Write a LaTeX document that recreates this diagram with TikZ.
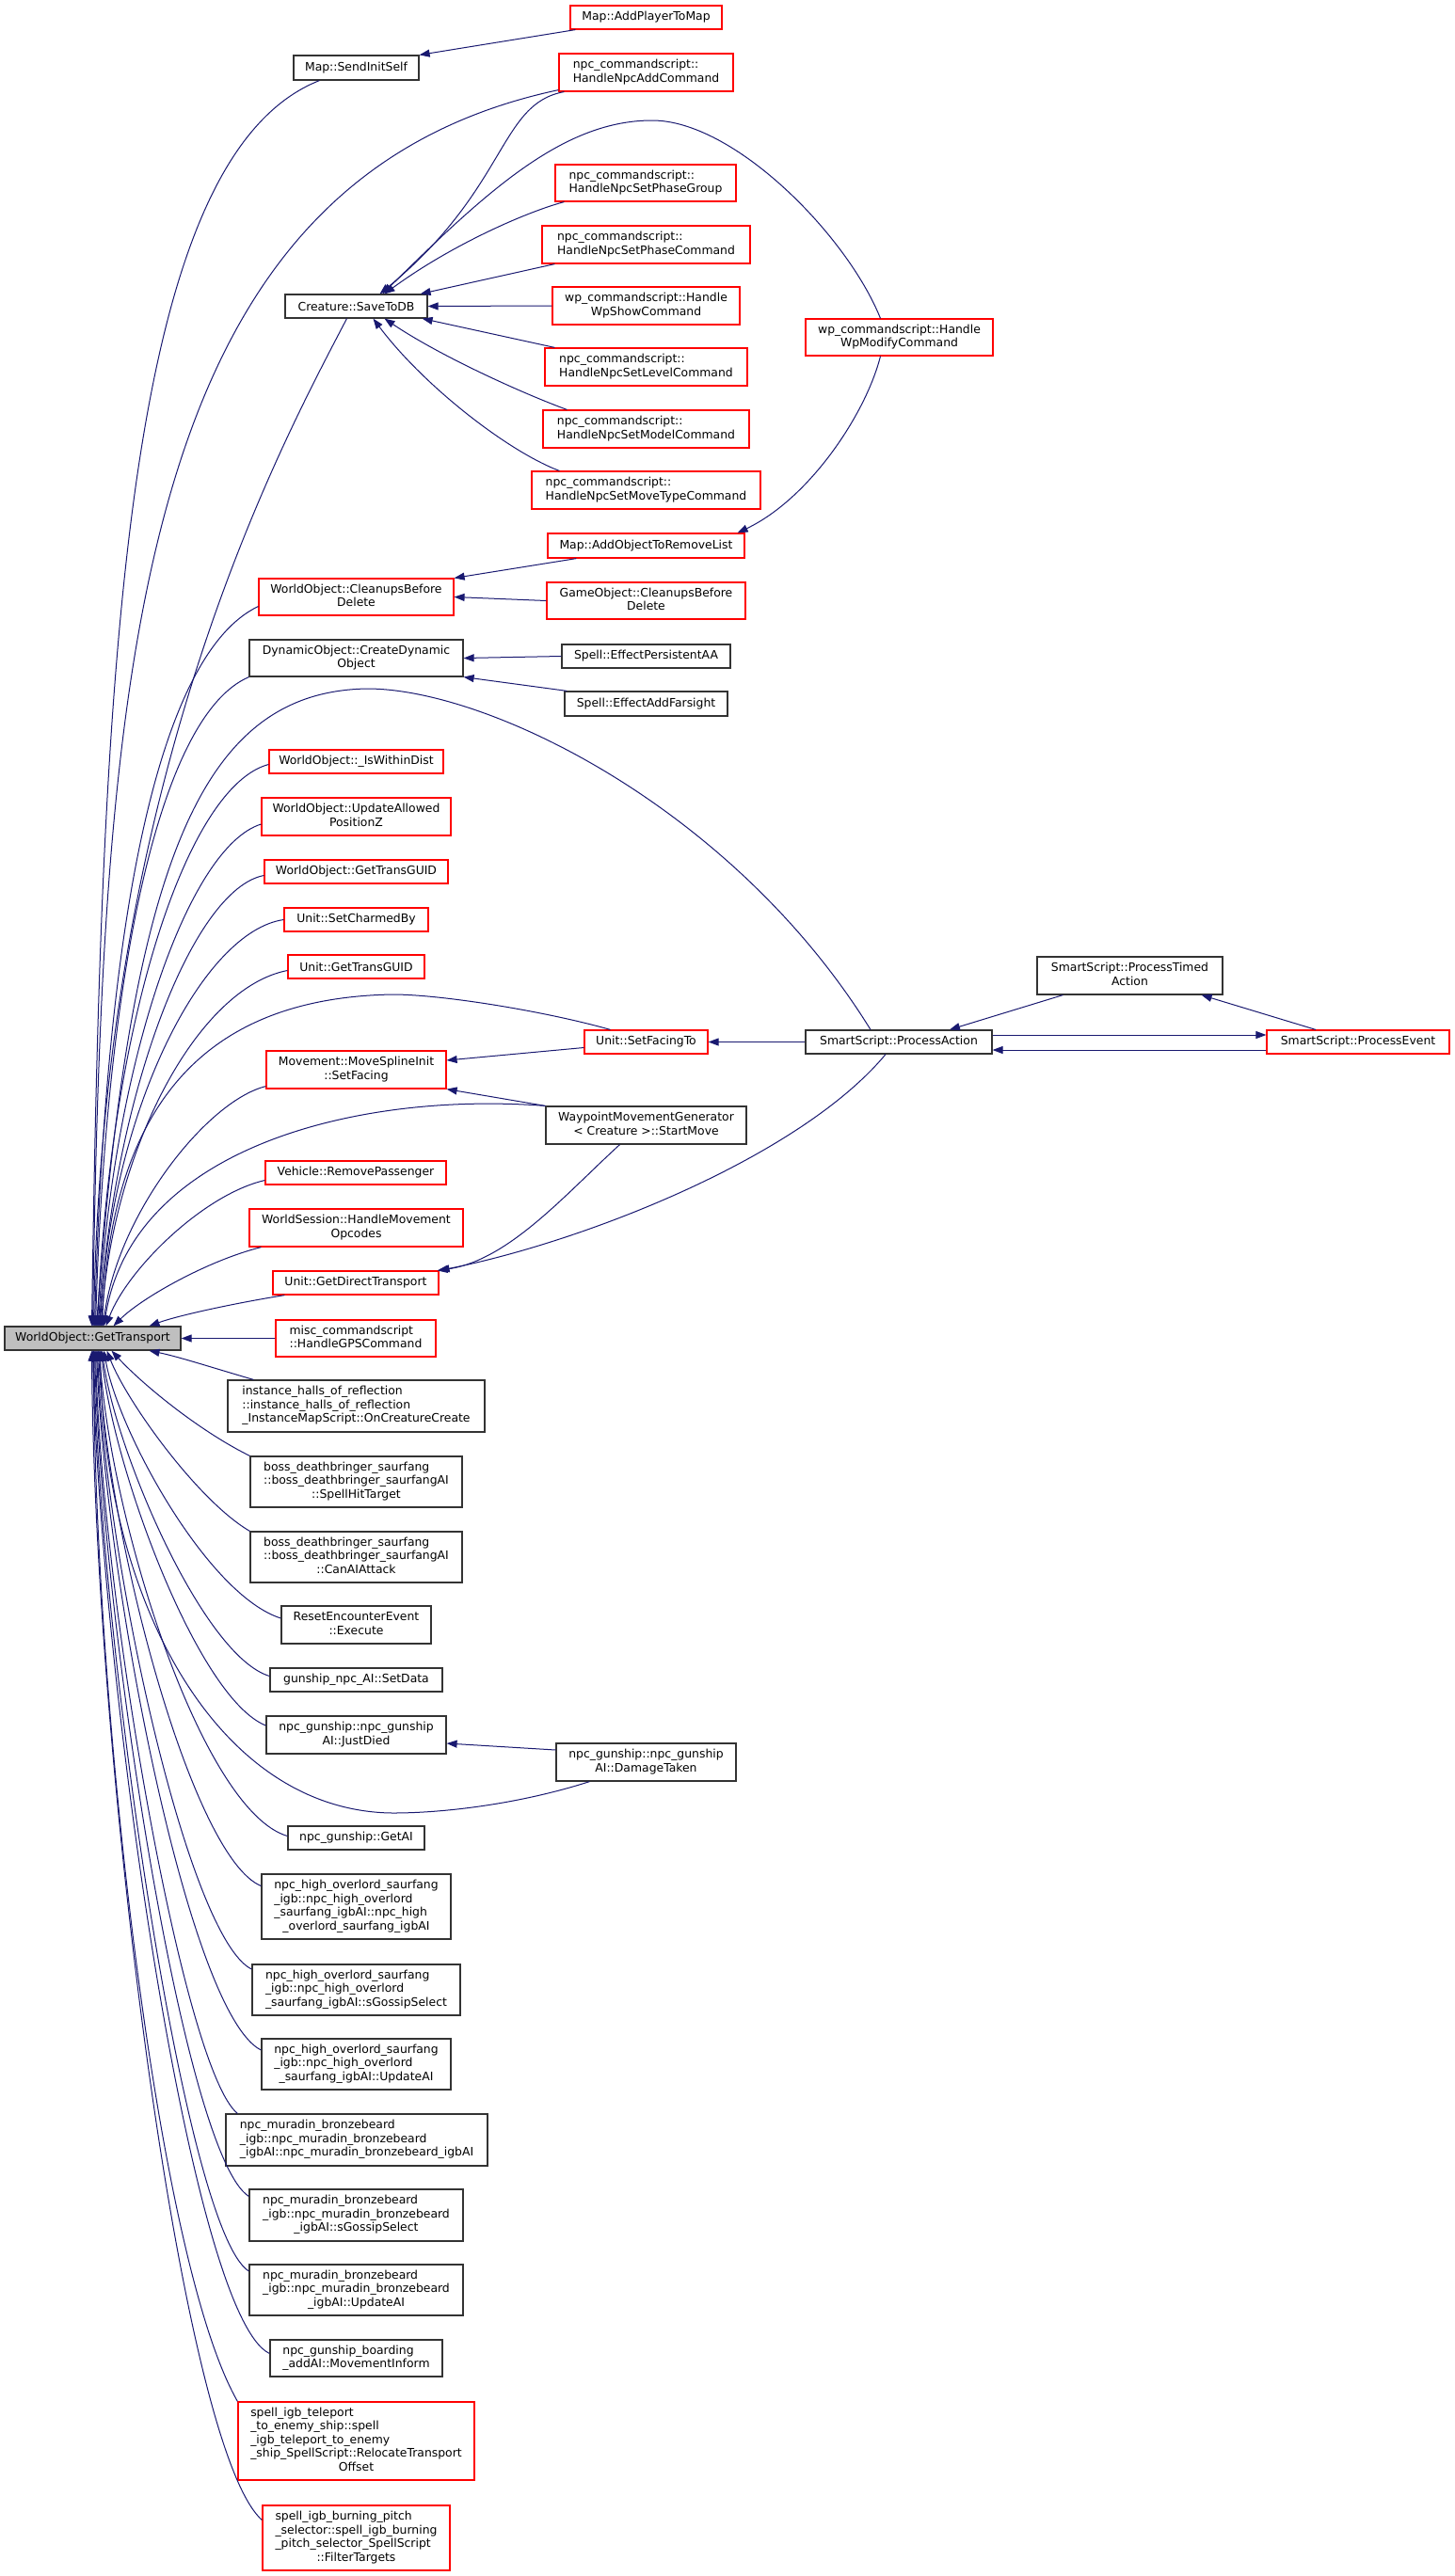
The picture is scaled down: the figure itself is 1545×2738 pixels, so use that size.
\documentclass[tikz,border=0pt]{standalone}
\usepackage{fontspec}
\setmainfont{DejaVu Sans}
\usetikzlibrary{arrows.meta}
\definecolor{edgeblue}{HTML}{191970}
\definecolor{nodered}{HTML}{FF0000}
\definecolor{nodegray}{HTML}{BFBFBF}
\newcommand{\lastln}[1]{\multicolumn{1}{@{}c@{}}{#1}}
\newcommand{\fnlines}[1]{\begin{tabular}{@{}l@{}}#1\end{tabular}}

\begin{document}
\begin{tikzpicture}[
    x=1pt, y=-1pt,
    calls/.style={
      draw=edgeblue, line width=1pt,
      -{Triangle[length=11pt,width=8pt]}
    },
    fnbox/.style={rectangle,draw,fill=white,inner sep=0pt,line width=1.2pt,
      font=\fontsize{12.4}{14.5}\selectfont},
    fnred/.style={fnbox,draw=nodered},
    fnblack/.style={fnbox,draw=black!80},
    fnsize/.style 2 args={minimum width=#1,minimum height=#2}
  ]
    \useasboundingbox (0,0) rectangle (1545,2738);

    \node[fnblack,fill=nodegray,fnsize={187}{25}] (GT) at (98.5,1422.5) {WorldObject::GetTransport};

    \node[fnred,fnsize={161}{25}] (AddPlayer) at (686.5,18.5) {Map::AddPlayerToMap};
    \node[fnblack,fnsize={133}{26}] (SendInit) at (378.5,72) {Map::SendInitSelf};
    \node[fnred,fnsize={185}{40}] (NpcAdd) at (686.5,77) {\fnlines{npc\_commandscript::\\\lastln{HandleNpcAddCommand}}};
    \node[fnred,fnsize={192}{39}] (PhaseGroup) at (686,194.5) {\fnlines{npc\_commandscript::\\\lastln{HandleNpcSetPhaseGroup}}};
    \node[fnred,fnsize={221}{40}] (PhaseCmd) at (686.5,260) {\fnlines{npc\_commandscript::\\\lastln{HandleNpcSetPhaseCommand}}};
    \node[fnred,fnsize={199}{40}] (WpShow) at (686.5,325) {\fnlines{wp\_commandscript::Handle\\\lastln{WpShowCommand}}};
    \node[fnred,fnsize={199}{39}] (WpModify) at (955.5,358.5) {\fnlines{wp\_commandscript::Handle\\\lastln{WpModifyCommand}}};
    \node[fnblack,fnsize={151}{25}] (SaveToDB) at (378.5,325.5) {Creature::SaveToDB};
    \node[fnred,fnsize={215}{40}] (LevelCmd) at (686.5,390) {\fnlines{npc\_commandscript::\\\lastln{HandleNpcSetLevelCommand}}};
    \node[fnred,fnsize={219}{40}] (ModelCmd) at (686.5,456) {\fnlines{npc\_commandscript::\\\lastln{HandleNpcSetModelCommand}}};
    \node[fnred,fnsize={243}{40}] (MoveTypeCmd) at (686.5,521) {\fnlines{npc\_commandscript::\\\lastln{HandleNpcSetMoveTypeCommand}}};
    \node[fnred,fnsize={209}{26}] (RemoveList) at (686.5,580) {Map::AddObjectToRemoveList};
    \node[fnred,fnsize={211}{39}] (GOClean) at (686.5,638.5) {\fnlines{GameObject::CleanupsBefore\\\lastln{Delete}}};
    \node[fnred,fnsize={207}{39}] (WOClean) at (378.5,634.5) {\fnlines{WorldObject::CleanupsBefore\\\lastln{Delete}}};
    \node[fnblack,fnsize={227}{39}] (DynObj) at (378.5,699.5) {\fnlines{DynamicObject::CreateDynamic\\\lastln{Object}}};
    \node[fnblack,fnsize={179}{25}] (PersistAA) at (686.5,697.5) {Spell::EffectPersistentAA};
    \node[fnblack,fnsize={173}{26}] (Farsight) at (686.5,748) {Spell::EffectAddFarsight};
    \node[fnred,fnsize={185}{25}] (IsWithin) at (378.5,809.5) {WorldObject::\_IsWithinDist};
    \node[fnred,fnsize={201}{40}] (UpdAllowed) at (378.5,868) {\fnlines{WorldObject::UpdateAllowed\\\lastln{PositionZ}}};
    \node[fnred,fnsize={195}{25}] (WOTransGUID) at (378.5,926.5) {WorldObject::GetTransGUID};
    \node[fnred,fnsize={153}{25}] (CharmedBy) at (378.5,977.5) {Unit::SetCharmedBy};
    \node[fnred,fnsize={145}{25}] (UnitTransGUID) at (378.5,1027.5) {Unit::GetTransGUID};
    \node[fnblack,fnsize={197}{40}] (TimedAction) at (1200.5,1037) {\fnlines{SmartScript::ProcessTimed\\\lastln{Action}}};
    \node[fnred,fnsize={131}{25}] (SetFacingTo) at (686.5,1107.5) {Unit::SetFacingTo};
    \node[fnblack,fnsize={198}{25}] (ProcAction) at (955,1107.5) {SmartScript::ProcessAction};
    \node[fnred,fnsize={194}{25}] (ProcEvent) at (1443,1107.5) {SmartScript::ProcessEvent};
    \node[fnred,fnsize={191}{40}] (MoveSpline) at (378.5,1137) {\fnlines{Movement::MoveSplineInit\\\lastln{::SetFacing}}};
    \node[fnblack,fnsize={213}{40}] (Waypoint) at (686.5,1196) {\fnlines{WaypointMovementGenerator\\\lastln{< Creature >::StartMove}}};
    \node[fnred,fnsize={192}{25}] (RemovePass) at (378,1246.5) {Vehicle::RemovePassenger};
    \node[fnred,fnsize={227}{40}] (MoveOpcodes) at (378.5,1305) {\fnlines{WorldSession::HandleMovement\\\lastln{Opcodes}}};
    \node[fnred,fnsize={176}{25}] (DirectTrans) at (378,1363.5) {Unit::GetDirectTransport};
    \node[fnred,fnsize={170}{39}] (GPSCmd) at (378,1422.5) {\fnlines{misc\_commandscript\\\lastln{::HandleGPSCommand}}};
    \node[fnblack,fnsize={273}{55}] (Halls) at (378.5,1494.5) {\fnlines{instance\_halls\_of\_reflection\\::instance\_halls\_of\_reflection\\\lastln{\_InstanceMapScript::OnCreatureCreate}}};
    \node[fnblack,fnsize={225}{54}] (SpellHit) at (378.5,1575) {\fnlines{boss\_deathbringer\_saurfang\\::boss\_deathbringer\_saurfangAI\\\lastln{::SpellHitTarget}}};
    \node[fnblack,fnsize={225}{54}] (CanAttack) at (378.5,1655) {\fnlines{boss\_deathbringer\_saurfang\\::boss\_deathbringer\_saurfangAI\\\lastln{::CanAIAttack}}};
    \node[fnblack,fnsize={159}{40}] (ResetEnc) at (378.5,1727) {\fnlines{ResetEncounterEvent\\\lastln{::Execute}}};
    \node[fnblack,fnsize={183}{25}] (SetData) at (378.5,1785.5) {gunship\_npc\_AI::SetData};
    \node[fnblack,fnsize={191}{40}] (JustDied) at (378.5,1844) {\fnlines{npc\_gunship::npc\_gunship\\\lastln{AI::JustDied}}};
    \node[fnblack,fnsize={191}{40}] (DamageTaken) at (686.5,1873) {\fnlines{npc\_gunship::npc\_gunship\\\lastln{AI::DamageTaken}}};
    \node[fnblack,fnsize={145}{25}] (GetAI) at (378.5,1953.5) {npc\_gunship::GetAI};
    \node[fnblack,fnsize={201}{69}] (HighCtor) at (378.5,2026.5) {\fnlines{npc\_high\_overlord\_saurfang\\\_igb::npc\_high\_overlord\\\_saurfang\_igbAI::npc\_high\\\lastln{\_overlord\_saurfang\_igbAI}}};
    \node[fnblack,fnsize={221}{54}] (HighGossip) at (378.5,2115) {\fnlines{npc\_high\_overlord\_saurfang\\\_igb::npc\_high\_overlord\\\lastln{\_saurfang\_igbAI::sGossipSelect}}};
    \node[fnblack,fnsize={201}{54}] (HighUpdate) at (378.5,2194) {\fnlines{npc\_high\_overlord\_saurfang\\\_igb::npc\_high\_overlord\\\lastln{\_saurfang\_igbAI::UpdateAI}}};
    \node[fnblack,fnsize={278}{55}] (MurCtor) at (379,2274.5) {\fnlines{npc\_muradin\_bronzebeard\\\_igb::npc\_muradin\_bronzebeard\\\lastln{\_igbAI::npc\_muradin\_bronzebeard\_igbAI}}};
    \node[fnblack,fnsize={227}{55}] (MurGossip) at (378.5,2354.5) {\fnlines{npc\_muradin\_bronzebeard\\\_igb::npc\_muradin\_bronzebeard\\\lastln{\_igbAI::sGossipSelect}}};
    \node[fnblack,fnsize={227}{54}] (MurUpdate) at (378.5,2434) {\fnlines{npc\_muradin\_bronzebeard\\\_igb::npc\_muradin\_bronzebeard\\\lastln{\_igbAI::UpdateAI}}};
    \node[fnblack,fnsize={183}{39}] (Boarding) at (378.5,2506.5) {\fnlines{npc\_gunship\_boarding\\\lastln{\_addAI::MovementInform}}};
    \node[fnred,fnsize={251}{83}] (Teleport) at (378.5,2594.5) {\fnlines{spell\_igb\_teleport\\\_to\_enemy\_ship::spell\\\_igb\_teleport\_to\_enemy\\\_ship\_SpellScript::RelocateTransport\\\lastln{Offset}}};
    \node[fnred,fnsize={199}{69}] (Burning) at (378.5,2697.5) {\fnlines{spell\_igb\_burning\_pitch\\\_selector::spell\_igb\_burning\\\_pitch\_selector\_SpellScript\\\lastln{::FilterTargets}}};

    % callers above WorldObject::GetTransport
    \draw[calls] ([xshift=28]SendInit.south west) .. controls (136,166) and (108,681) .. ([xshift=-1]GT.north);
    \draw[calls] ([yshift=2]NpcAdd.south west) .. controls (150,190) and (109,687) .. (GT.north);
    \draw[calls] ([xshift=-10]SaveToDB.south) .. controls (300,470) and (109.5,820) .. ([xshift=1]GT.north);
    \draw[calls] ([yshift=-10]WOClean.west) .. controls (165,697) and (112,990) .. ([xshift=2]GT.north);
    \draw[calls] (DynObj.south west) .. controls (170,760) and (113,1030) .. ([xshift=3]GT.north);
    \draw[calls] ([xshift=-30]ProcAction.north) .. controls (780,860) and (520,732) .. (390,732)
      .. controls (220,735) and (140,900) .. ([xshift=4]GT.north);
    \draw[calls] ([yshift=-3]IsWithin.west) .. controls (200,835) and (118,1080) .. ([xshift=5]GT.north);
    \draw[calls] ([yshift=-8]UpdAllowed.west) .. controls (200,900) and (120,1130) .. ([xshift=6]GT.north);
    \draw[calls] ([yshift=-4]WOTransGUID.west) .. controls (205,945) and (122,1160) .. ([xshift=7]GT.north);
    \draw[calls] (CharmedBy.west) .. controls (215,990) and (118,1180) .. ([xshift=8]GT.north);
    \draw[calls] ([yshift=-4]UnitTransGUID.west) .. controls (210,1050) and (120,1220) .. ([xshift=9]GT.north);
    \draw[calls] ([xshift=-38]SetFacingTo.north) .. controls (580,1075) and (470,1057) .. (417,1057)
      .. controls (250,1060) and (120,1140) .. ([xshift=10]GT.north);
    \draw[calls] ([yshift=3]MoveSpline.south west) .. controls (220,1170) and (125,1290) .. ([xshift=11]GT.north);
    \draw[calls] (Waypoint.north west) .. controls (380,1160) and (140,1220) .. ([xshift=12]GT.north);
    \draw[calls] ([yshift=-8]RemovePass.west) .. controls (215,1270) and (135,1350) .. ([xshift=14]GT.north);
    \draw[calls] ([xshift=13]MoveOpcodes.south west) .. controls (220,1340) and (150,1380) .. ([xshift=22]GT.north);
    \draw[calls] ([xshift=13]DirectTrans.south west) .. controls (250,1385) and (190,1398) .. ([xshift=60]GT.north);
    \draw[calls] (GPSCmd.west) -- (GT.east);

    % callers below WorldObject::GetTransport
    \draw[calls] ([xshift=28]Halls.north west) .. controls (230,1455) and (190,1442) .. ([xshift=60]GT.south);
    \draw[calls] (SpellHit.north west) .. controls (210,1520) and (150,1470) .. ([xshift=20]GT.south);
    \draw[calls] (CanAttack.north west) .. controls (210,1595) and (135,1490) .. ([xshift=15]GT.south);
    \draw[calls] ([yshift=7]ResetEnc.west) .. controls (220,1695) and (125,1520) .. ([xshift=12]GT.south);
    \draw[calls] ([yshift=4]SetData.west) .. controls (215,1760) and (122,1540) .. ([xshift=10]GT.south);
    \draw[calls] ([yshift=10]JustDied.west) .. controls (210,1805) and (120,1560) .. ([xshift=9]GT.south);
    \draw[calls] ([xshift=36]DamageTaken.south west) .. controls (560,1915) and (480,1927) .. (417,1927)
      .. controls (230,1925) and (110,1700) .. ([xshift=8]GT.south);
    \draw[calls] ([yshift=2]GetAI.west) .. controls (215,1925) and (118,1620) .. ([xshift=7]GT.south);
    \draw[calls] ([yshift=22]HighCtor.west) .. controls (205,1975) and (115,1640) .. ([xshift=6]GT.south);
    \draw[calls] ([yshift=22]HighGossip.west) .. controls (200,2060) and (112,1660) .. ([xshift=5]GT.south);
    \draw[calls] ([yshift=15]HighUpdate.west) .. controls (200,2140) and (112,1680) .. ([xshift=4]GT.south);
    \draw[calls] ([xshift=13]MurCtor.north west) .. controls (195,2200) and (108,1700) .. ([xshift=3]GT.south);
    \draw[calls] ([yshift=20]MurGossip.west) .. controls (195,2290) and (108,1720) .. ([xshift=2]GT.south);
    \draw[calls] ([yshift=20]MurUpdate.west) .. controls (195,2370) and (106,1740) .. ([xshift=1]GT.south);
    \draw[calls] ([yshift=5]Boarding.west) .. controls (200,2460) and (105,1760) .. (GT.south);
    \draw[calls] (Teleport.north west) .. controls (165,2400) and (100,1800) .. ([xshift=1]GT.south);
    \draw[calls] ([yshift=19]Burning.west) .. controls (190,2600) and (100,1850) .. ([xshift=-1]GT.south);

    % the other calls
    \draw[calls] ([xshift=6]AddPlayer.south west) -- (SendInit.north east);
    \draw[calls] ([xshift=6]NpcAdd.south west) .. controls (530,110) and (540,200) .. ([xshift=25]SaveToDB.north);
    \draw[calls] ([xshift=-20]WpModify.north) .. controls (900,250) and (780,128) .. (693,128)
      .. controls (600,128) and (520,200) .. ([xshift=28]SaveToDB.north);
    \draw[calls] ([xshift=10]PhaseGroup.south west) .. controls (560,225) and (480,260) .. ([xshift=30]SaveToDB.north);
    \draw[calls] ([xshift=14]PhaseCmd.south west) -- ([xshift=-8]SaveToDB.north east);
    \draw[calls] (WpShow.west) -- (SaveToDB.east);
    \draw[calls] ([xshift=11]LevelCmd.north west) -- ([xshift=-6]SaveToDB.south east);
    \draw[calls] ([xshift=26]ModelCmd.north west) .. controls (560,420) and (470,380) .. ([xshift=30]SaveToDB.south);
    \draw[calls] ([xshift=30]MoveTypeCmd.north west) .. controls (540,480) and (450,410) .. ([xshift=18]SaveToDB.south);
    \draw[calls] ([xshift=-20]WpModify.south) .. controls (920,440) and (860,530) .. ([xshift=-8]RemoveList.north east);
    \draw[calls] ([xshift=31]RemoveList.south west) -- (WOClean.north east);
    \draw[calls] (GOClean.west) -- (WOClean.east);
    \draw[calls] (PersistAA.west) -- (DynObj.east);
    \draw[calls] ([xshift=3]Farsight.north west) -- (DynObj.south east);
    \draw[calls] ([yshift=-6]SetFacingTo.west) -- ([yshift=10]MoveSpline.east);
    \draw[calls] (Waypoint.north west) -- (MoveSpline.south east);
    \draw[calls] (ProcAction.west) -- (SetFacingTo.east);
    \draw[calls] ([xshift=-28]Waypoint.south) .. controls (600,1270) and (540,1340) .. ([xshift=-2]DirectTrans.north east);
    \draw[calls] ([xshift=-14]ProcAction.south) .. controls (850,1230) and (620,1320) .. (DirectTrans.north east);
    \draw[calls] ([xshift=28]TimedAction.south west) -- ([xshift=54]ProcAction.north);
    \draw[calls] ([xshift=-45]ProcEvent.north) -- ([xshift=-23]TimedAction.south east);
    \draw[calls] ([yshift=7.5]ProcAction.east) -- ([yshift=7.5]ProcEvent.west);
    \draw[calls] ([yshift=-8.5]ProcEvent.west) -- ([yshift=-8.5]ProcAction.east);
    \draw[calls] ([yshift=13]DamageTaken.west) -- ([yshift=-9]JustDied.east);
  \end{tikzpicture}
\end{document}
